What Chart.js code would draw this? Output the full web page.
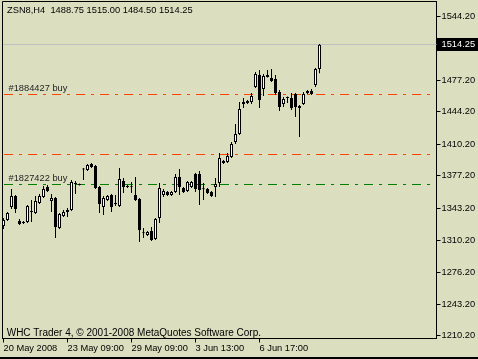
<!DOCTYPE html>
<html><head><meta charset="utf-8">
<style>html,body{margin:0;padding:0;background:#dcdfbf;overflow:hidden}#wrap{width:478px;height:359px}</style>
<script src="https://cdn.jsdelivr.net/npm/chart.js@4"></script>
</head><body><div id="wrap"><canvas id="c" width="478" height="359"></canvas></div>
<script>
const symbol = 'ZSN8,H4';
const copyright = 'WHC Trader 4, \u00a9 2001-2008 MetaQuotes Software Corp.';
const open = [1324.9,1331.1,1344.7,1356.2,1330.1,1329.0,1329.0,1340.5,1338.4,1348.9,
 1355.2,1365.6,1351.0,1354.1,1322.8,1335.3,1341.6,1341.6,1369.8,1368.7,
 1384.4,1383.4,1389.6,1387.5,1365.6,1344.7,1352.0,1357.2,1348.3,1345.8,
 1371.9,1366.6,1365.8,1357.2,1353.1,1317.8,1315.5,1319.6,1311.3,1333.2,
 1357.2,1360.4,1357.2,1360.4,1376.0,1364.6,1361.4,1365.6,1379.2,1379.2,
 1363.8,1363.5,1360.4,1365.6,1369.8,1392.8,1391.7,1396.9,1412.6,1421.0,
 1452.3,1455.4,1454.4,1470.0,1482.6,1467.9,1482.6,1479.4,1478.4,1464.8,
 1452.3,1459.6,1458.5,1462.7,1450.2,1452.3,1463.8,1465.9,1472.1,1488.75];
const high = [1333.2,1339.5,1363.5,1357.2,1332.2,1330.1,1346.8,1352.0,1356.2,1358.3,
 1366.6,1367.7,1358.3,1355.2,1338.4,1341.6,1343.7,1372.9,1371.9,1369.2,
 1385.4,1389.6,1390.7,1388.6,1366.6,1356.2,1357.2,1358.3,1357.2,1385.4,
 1375.0,1367.7,1370.8,1376.0,1354.1,1322.8,1319.6,1323.8,1333.2,1369.8,
 1363.5,1361.4,1361.4,1379.2,1384.4,1365.6,1371.9,1371.9,1380.2,1382.3,
 1369.8,1364.6,1361.4,1375.0,1401.1,1393.8,1401.1,1412.6,1431.4,1454.4,
 1458.5,1456.5,1463.8,1485.7,1487.8,1483.6,1487.8,1488.8,1482.6,1466.9,
 1459.6,1460.1,1463.8,1463.8,1451.2,1464.8,1466.9,1467.9,1489.9,1515.00];
const low = [1321.7,1330.1,1342.6,1338.4,1325.9,1327.0,1328.0,1329.0,1337.4,1347.8,
 1354.1,1360.4,1339.5,1312.3,1321.7,1334.3,1334.3,1340.5,1358.3,1367.2,
 1372.9,1382.3,1385.4,1363.5,1338.4,1336.4,1351.0,1339.5,1345.8,1344.7,
 1359.3,1364.6,1359.3,1351.0,1308.1,1312.3,1314.4,1309.2,1310.2,1328.0,
 1355.2,1356.2,1356.2,1359.3,1357.2,1359.3,1360.4,1364.6,1360.4,1346.8,
 1352.0,1358.3,1355.2,1355.2,1365.6,1389.6,1390.7,1395.9,1410.5,1419.9,
 1448.1,1452.3,1452.3,1469.0,1448.1,1460.6,1480.0,1475.3,1461.7,1445.0,
 1449.1,1453.3,1446.0,1438.7,1417.8,1451.2,1462.7,1461.7,1470.0,1484.50];
const close = [1331.1,1338.4,1356.2,1342.6,1327.0,1328.0,1345.8,1339.5,1351.0,1356.2,
 1363.5,1361.4,1354.1,1323.8,1337.4,1339.5,1339.5,1370.8,1368.7,1367.7,
 1383.9,1388.6,1386.5,1364.6,1347.8,1354.1,1356.2,1344.7,1347.8,1374.0,
 1365.6,1365.6,1365.4,1352.0,1320.7,1317.3,1318.6,1310.2,1332.2,1364.6,
 1361.4,1357.2,1360.4,1376.0,1365.6,1360.4,1370.8,1370.8,1363.5,1362.5,
 1363.3,1359.3,1356.2,1368.7,1395.9,1390.7,1398.0,1410.5,1421.0,1447.0,
 1454.4,1453.3,1460.6,1483.6,1456.5,1481.5,1480.5,1476.3,1463.8,1449.1,
 1457.5,1458.5,1448.1,1449.1,1448.1,1462.7,1465.9,1462.7,1488.8,1514.25];
const xTickPos = [0,16,32,48,64];
const xTickLabels = ['20 May 2008','23 May 09:00','29 May 09:00','3 Jun 13:00','6 Jun 17:00'];
const yTickValues = [1210.2,1243.2,1276.2,1310.2,1343.2,1377.2,1410.2,1444.2,1477.2,1544.2];
const orderLevels = [1462.5,1400.0,1368.5];
const orderLabels = ['#1884427 buy','','#1827422 buy'];

const BG = '#dcdfbf';
const FAMILY = '"Liberation Sans", Arial, sans-serif';
const FSIZE = 9.3;
const FONT = FSIZE + 'px ' + FAMILY;
const FONT_WIDE = '10px ' + FAMILY;
const ORDER_COLORS = ['rgb(255,69,0)','rgb(255,69,0)','rgb(0,128,0)'];

Chart.defaults.font.family = FAMILY;
Chart.defaults.font.size = FSIZE;
Chart.defaults.color = '#000';

const idx = open.map((_, i) => i);
const last = close.length - 1;

const overlay = {
  id: 'overlay',
  beforeDraw(chart) {
    const {ctx, width, height} = chart;
    ctx.save();
    ctx.fillStyle = BG; ctx.fillRect(0, 0, width, height);
    ctx.fillStyle = '#000'; ctx.fillRect(0, height - 2, width, 2);
    ctx.restore();
  },
  beforeDatasetsDraw(chart) {
    const {ctx, chartArea: a, scales: {y}} = chart;
    const py = Math.floor(y.getPixelForValue(close[last])) + 0.5;
    ctx.save();
    ctx.lineWidth = 1;
    ctx.strokeStyle = '#c0c0c0';
    ctx.beginPath(); ctx.moveTo(a.left, py); ctx.lineTo(a.right, py); ctx.stroke();
    ctx.restore();
    for (let i = 0; i < orderLevels.length; i++) {
      const ly = Math.floor(y.getPixelForValue(orderLevels[i])) + 0.5;
      ctx.save();
      ctx.lineWidth = 1;
      ctx.strokeStyle = ORDER_COLORS[i];
      ctx.setLineDash([9, 6, 3, 6]);
      ctx.beginPath(); ctx.moveTo(a.left + 1.5, ly); ctx.lineTo(a.right - 6.5, ly); ctx.stroke();
      ctx.restore();
      if (orderLabels[i]) {
        ctx.save();
        ctx.fillStyle = '#1e1e1e'; ctx.font = FONT; ctx.textBaseline = 'middle'; ctx.textAlign = 'left';
        ctx.fillText(orderLabels[i], a.left + 6, ly - 6);
        ctx.restore();
      }
    }
  },
  afterDraw(chart) {
    const {ctx, chartArea: a, scales: {y}, width} = chart;
    ctx.save();
    ctx.strokeStyle = '#000'; ctx.lineWidth = 1;
    ctx.beginPath();
    ctx.moveTo(a.left, a.bottom); ctx.lineTo(a.left, a.top); ctx.lineTo(a.right, a.top);
    ctx.stroke();
    ctx.font = FONT; ctx.fillStyle = '#000'; ctx.textBaseline = 'middle'; ctx.textAlign = 'left';
    const title = symbol + '  ' + [open[last], high[last], low[last], close[last]].map(v => v.toFixed(2)).join(' ');
    ctx.fillText(title, a.left + 4.5, 10.7);
    ctx.font = FONT_WIDE;
    ctx.fillText(copyright, a.left + 4.2, a.bottom - 5.2);
    ctx.font = FONT;
    const py = Math.floor(y.getPixelForValue(close[last])) + 0.5;
    ctx.fillStyle = '#000';
    ctx.fillRect(a.right + 0.5, py - 6.5, width - a.right, 13);
    ctx.fillStyle = '#fff';
    ctx.fillText(close[last].toFixed(2), a.right + 5, py);
    ctx.restore();
  }
};

new Chart(document.getElementById('c'), {
  type: 'bar',
  data: {
    datasets: [
      {
        label: 'body',
        data: idx.map(i => ({x: i, y: [open[i], close[i]]})),
        barThickness: 3, grouped: false, minBarLength: 1, inflateAmount: 0,
        borderWidth: 1, borderSkipped: false, borderColor: '#000',
        backgroundColor: c => close[c.dataIndex] >= open[c.dataIndex] ? '#fff' : '#000',
        order: 0
      },
      {
        label: 'wick',
        data: idx.map(i => ({x: i, y: [low[i], high[i]]})),
        barThickness: 1, grouped: false, inflateAmount: 0,
        borderWidth: 0, backgroundColor: '#000',
        order: 1
      }
    ]
  },
  options: {
    responsive: false, animation: false, devicePixelRatio: 1,
    layout: {padding: {left: 2.5, top: 1.5, right: 0, bottom: 0}},
    plugins: {legend: {display: false}, tooltip: {enabled: false}},
    scales: {
      x: {
        type: 'linear', min: -0.25, max: 108.25, offset: false,
        afterBuildTicks: a => { a.ticks = xTickPos.map(v => ({value: v})); },
        afterFit: a => { a.height = 20.5; a.paddingLeft = 0; a.paddingRight = 0; },
        ticks: {callback: v => xTickLabels[xTickPos.indexOf(v)], align: 'start', maxRotation: 0, minRotation: 0, autoSkip: false, padding: 0, color: '#000'},
        grid: {drawOnChartArea: false, offset: false, tickLength: 4, color: '#000', lineWidth: 1},
        border: {display: true, color: '#000', width: 1}
      },
      y: {
        type: 'linear', position: 'right', min: 1207.3, max: 1559.4,
        afterBuildTicks: a => { a.ticks = yTickValues.map(v => ({value: v})); },
        afterFit: a => { a.width = 41.5; a.paddingTop = 0; a.paddingBottom = 0; },
        ticks: {callback: v => v.toFixed(2), autoSkip: false, padding: 1, color: '#000'},
        grid: {drawOnChartArea: false, tickLength: 4, color: '#000', lineWidth: 1},
        border: {display: true, color: '#000', width: 1}
      }
    }
  },
  plugins: [overlay]
});
</script>
</body></html>
